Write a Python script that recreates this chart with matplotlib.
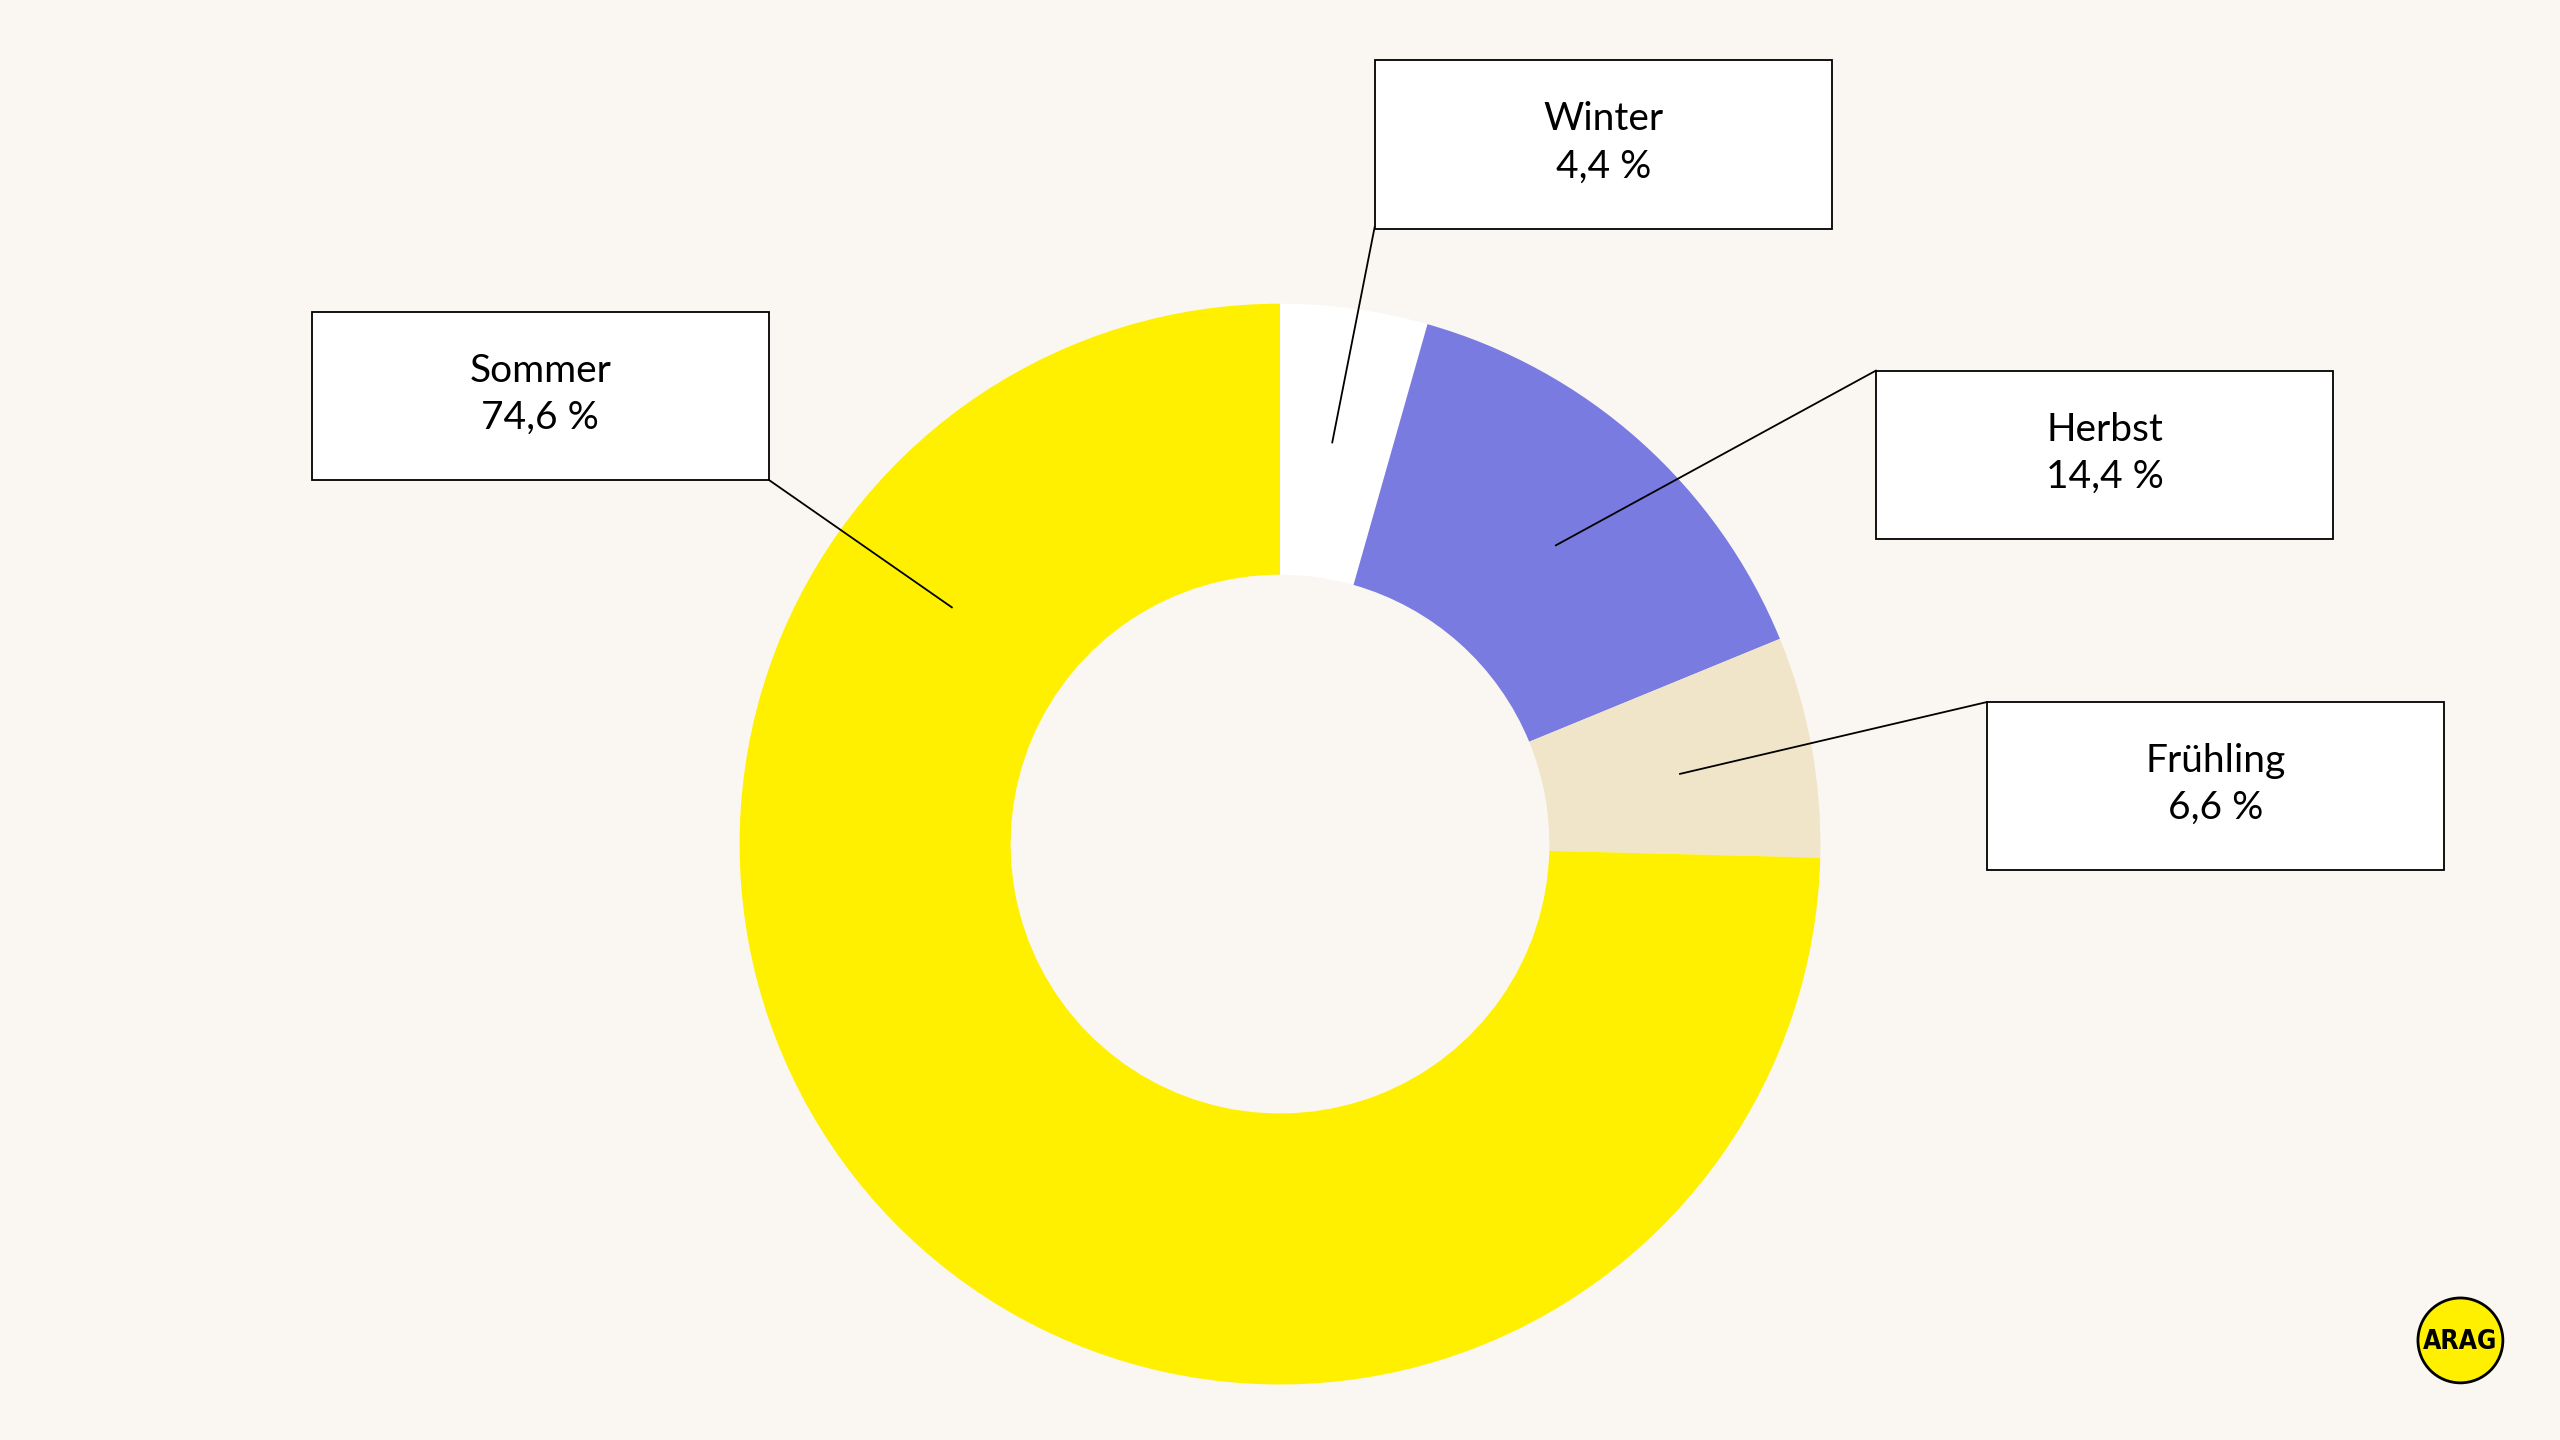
import matplotlib
matplotlib.use("Agg")
import matplotlib.pyplot as plt
from matplotlib.patches import Rectangle, Circle

labels = ["Winter", "Herbst", "Frühling", "Sommer"]
values = [4.4, 14.4, 6.6, 74.6]
value_text = ["4,4 %", "14,4 %", "6,6 %", "74,6 %"]
colors = ["#FFFFFF", "#7A7BE0", "#F0E5C8", "#FFF000"]

bg = "#FAF7F2"
fig = plt.figure(figsize=(25.6, 14.4), dpi=100, facecolor=bg)
ax = fig.add_axes([0, 0, 1, 1])
ax.set_xlim(0, 1568); ax.set_ylim(882, 0); ax.set_aspect("equal"); ax.axis("off")
ax.set_facecolor(bg)

cx, cy, R = 784, 517, 331
wedges, _ = ax.pie(values, colors=colors, startangle=90, counterclock=False,
                   center=(cx, cy), radius=R, wedgeprops=dict(width=R - 165, linewidth=0))
for w in wedges:
    t1, t2 = w.theta1, w.theta2
    w.set_theta1(-t2); w.set_theta2(-t1)
ax.set_xlim(0, 1568); ax.set_ylim(882, 0)

boxes = {"Winter": (842, 37), "Herbst": (1149, 227), "Frühling": (1217, 430), "Sommer": (191, 191)}
lines = {"Winter": ((816, 271), (842, 139)), "Herbst": ((953, 334), (1149, 227)),
         "Frühling": ((1029, 474), (1217, 430)), "Sommer": ((583, 372), (471, 294))}
bw, bh = 280, 103
for lab, vt in zip(labels, value_text):
    x, y = boxes[lab]
    ax.add_patch(Rectangle((x, y), bw, bh, facecolor="white", edgecolor="black", lw=1.3, zorder=5))
    ax.text(x + bw / 2, y + bh / 2 - 1, f"{lab}\n{vt}", ha="center", va="center",
            fontsize=28, family="Lato", linespacing=1.38, zorder=6)
    (x1, y1), (x2, y2) = lines[lab]
    ax.plot([x1, x2], [y1, y2], color="black", lw=1.3, zorder=4)

ax.add_patch(Circle((1507, 821), 26, facecolor="#FFF000", edgecolor="black", lw=2, zorder=5))
ax.text(1507, 822, "ARAG", ha="center", va="center", fontsize=19, fontweight="heavy",
        family="DejaVu Sans", stretch="condensed", zorder=6)

fig.savefig("out.png", dpi=100, facecolor=bg)
